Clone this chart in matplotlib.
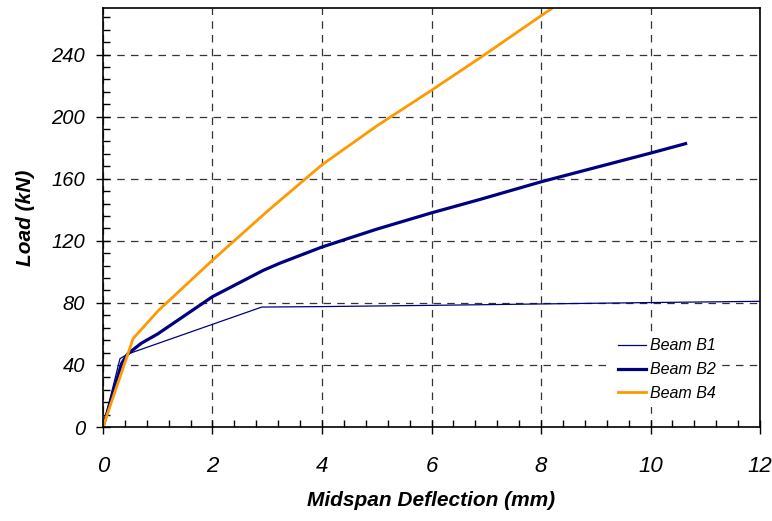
import matplotlib.pyplot as plt
from matplotlib.ticker import MultipleLocator

# midspan deflection (mm) vs load (kN)
b1_x = [0, 0.31, 0.45, 2.9, 4, 6, 8, 10, 12]
b1_y = [0, 44, 47, 77.3, 77.6, 78.4, 79.3, 80.2, 81]
b2_x = [0, 0.34, 0.45, 0.7, 1.0, 1.5, 2, 2.93, 3.24, 4, 5, 6, 6.89, 8, 10, 10.64]
b2_y = [0, 41, 47, 54, 60, 72, 84, 101, 105.7, 116, 127.5, 138, 146.7, 158, 176.5, 182.6]
b4_x = [0, 0.55, 1.01, 2, 3, 4, 5, 6, 6.89, 8, 8.5]
b4_y = [0, 57, 75, 107.5, 139, 169, 194, 217, 238, 265, 277]

x_ticks = [0, 2, 4, 6, 8, 10, 12]
y_ticks = [0, 40, 80, 120, 160, 200, 240]

plt.rcParams['font.family'] = ['Liberation Sans', 'DejaVu Sans']

fig = plt.figure(figsize=(7.72, 5.21), dpi=100)
ax = fig.add_axes([0.1334, 0.1804, 0.8511, 0.8042])

ax.plot(b1_x, b1_y, color='#000080', lw=0.9, label='Beam B1')
ax.plot(b2_x, b2_y, color='#000080', lw=2.3, label='Beam B2')
ax.plot(b4_x, b4_y, color='#FF9900', lw=2.0, label='Beam B4')

ax.set_xlim(0, 12)
ax.set_ylim(0, 270)
ax.set_xticks(x_ticks)
ax.set_yticks(y_ticks)
ax.xaxis.set_minor_locator(MultipleLocator(0.4))
ax.yaxis.set_minor_locator(MultipleLocator(8))

ax.grid(True, which='major', color='#333333', ls=(0, (6, 5)), lw=0.9)
ax.set_axisbelow(True)

ax.tick_params(which='major', direction='inout', length=10, width=1, color='black')
ax.tick_params(which='minor', direction='in', length=5, width=1, color='black')
ax.tick_params(axis='x', which='major', pad=16)
ax.tick_params(axis='y', which='major', pad=8)

for lbl in ax.get_yticklabels():
    lbl.set_fontsize(14.5)
    lbl.set_fontstyle('italic')
for lbl in ax.get_xticklabels():
    lbl.set_fontsize(16)
    lbl.set_fontstyle('italic')

for s in ax.spines.values():
    s.set_linewidth(1.2)

ax.set_xlabel('Midspan Deflection (mm)', fontsize=15, fontweight='bold', fontstyle='italic',
              labelpad=10)
ax.set_ylabel('Load (kN)', fontsize=15, fontweight='bold', fontstyle='italic', labelpad=12)

leg = ax.legend(loc='lower right', bbox_to_anchor=(0.955, 0.028), frameon=True,
                prop={'size': 11.5, 'style': 'italic'}, handlelength=1.8,
                handletextpad=0.25, labelspacing=0.55, borderpad=0.4)
leg.get_frame().set_edgecolor('none')
leg.get_frame().set_facecolor('white')
leg.get_frame().set_alpha(1)

fig.savefig('out.png', dpi=100)
